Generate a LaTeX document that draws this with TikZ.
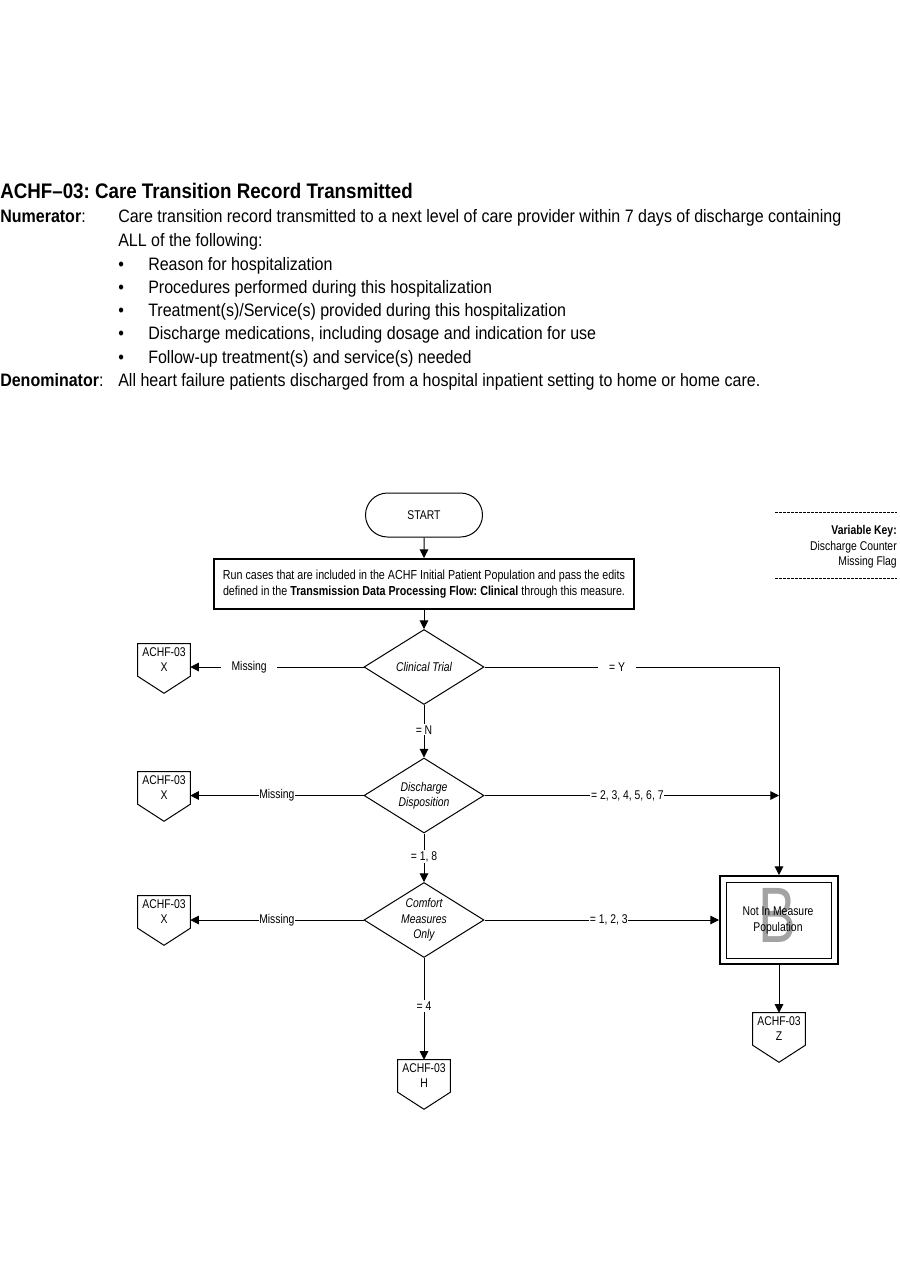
\documentclass[tikz,border=0pt]{standalone}
\usepackage{fontspec}
\setmainfont{Liberation Sans}[FakeStretch=0.82]
\newfontfamily\hdrfont{Liberation Sans}[FakeStretch=0.89]
\usetikzlibrary{shapes.geometric,shapes.misc,arrows.meta,calc}
\frenchspacing

\begin{document}
\begin{tikzpicture}[x=0.75pt,y=-0.75pt,
  every node/.style={font=\fontsize{9.5}{11.5}\selectfont},
  ln/.style={line width=0.75pt},
  arr/.style={line width=0.75pt,-{Triangle[length=6.5pt,width=6.5pt]}},
  dec/.style={diamond,draw,line width=0.75pt,inner sep=0pt,minimum width=90pt,minimum height=56.25pt,aspect=1.6,align=center,font=\fontsize{9.5}{11.5}\selectfont\itshape},
  conn/.style={minimum width=39pt,minimum height=24pt,inner sep=0pt,align=center,font=\fontsize{9.5}{11.25}\selectfont},
  lbl/.style={fill=white,inner sep=1pt},
  hdr/.style={anchor=base west,inner sep=0pt,font=\hdrfont\fontsize{13.5}{15}\selectfont}]
\useasboundingbox (0,0) rectangle (900,1286);

% ---- header text ----
\node[hdr,font=\hdrfont\bfseries\fontsize{15.8}{17}\selectfont] (title) at (0,198) {ACHF–03: Care Transition Record Transmitted};
\node[hdr] (numl) at (0,222) {\textbf{Numerator}:};
\node[hdr] (num1) at (118,222) {Care transition record transmitted to a next level of care provider within 7 days of discharge containing};
\node[hdr] (num2) at (118,246) {ALL of the following:};
\node[hdr] (b1) at (118,270) {•};
\node[hdr] (t1) at (148,270) {Reason for hospitalization};
\node[hdr] (b2) at (118,293) {•};
\node[hdr] (t2) at (148,293) {Procedures performed during this hospitalization};
\node[hdr] (b3) at (118,316) {•};
\node[hdr] (t3) at (148,316) {Treatment(s)/Service(s) provided during this hospitalization};
\node[hdr] (b4) at (118,339) {•};
\node[hdr] (t4) at (148,339) {Discharge medications, including dosage and indication for use};
\node[hdr] (b5) at (118,363) {•};
\node[hdr] (t5) at (148,363) {Follow-up treatment(s) and service(s) needed};
\node[hdr] (denl) at (0,386) {\textbf{Denominator}:};
\node[hdr] (den1) at (118,386) {All heart failure patients discharged from a hospital inpatient setting to home or home care.};

% ---- variable key ----
\draw[line width=0.5pt,dash pattern=on 2pt off 1pt] (775,512) -- (897,512);
\node[anchor=base east,inner sep=0pt,font=\bfseries\fontsize{9.5}{11.5}\selectfont] (vk) at (897,534) {Variable Key:};
\node[anchor=base east,inner sep=0pt] (vk1) at (897,550) {Discharge Counter};
\node[anchor=base east,inner sep=0pt] (vk2) at (897,565) {Missing Flag};
\draw[line width=0.5pt,dash pattern=on 2pt off 1pt] (775,578) -- (897,578);

% ---- flowchart ----
\node[rounded rectangle,draw,line width=0.75pt,minimum width=87.75pt,minimum height=33pt,inner sep=0pt] (start) at (424,515) {START};
\node[draw,line width=1.5pt,minimum width=315pt,minimum height=37.5pt,inner sep=0pt,align=center,font=\fontsize{9.8}{12}\selectfont] (run) at (424,584)
  {Run cases that are included in the ACHF Initial Patient Population and pass the edits\\defined in the \textbf{Transmission Data Processing Flow: Clinical} through this measure.};

\node[dec] (d1) at (424,667) {Clinical Trial};
\node[dec] (d2) at (424,795.5) {Discharge\\Disposition};
\node[dec] (d3) at (424,920) {Comfort\\Measures\\Only};

% B box
\node[draw,line width=1.5pt,minimum width=88.5pt,minimum height=66pt,inner sep=0pt] (bbox) at (779,920) {};
\draw[ln] ($(bbox.north west)+(7,7)$) rectangle ($(bbox.south east)+(-8,-7)$);
\node[text=black!36,inner sep=0pt,font=\fontsize{59}{59}\selectfont] (bigb) at (777,915) {\scalebox{0.88}[1]{B}};
\node[align=center,inner sep=0pt,font=\fontsize{9.5}{12}\selectfont] (btxt) at (778,920) {Not In Measure\\Population};

% off-page connectors
\newcommand\offpage[3]{%
  \node[conn] (#1) at (#2) {ACHF-03\\#3};
  \draw[ln] (#1.north west) -- (#1.north east) -- (#1.south east) -- ($(#1.south)+(0,17)$) -- (#1.south west) -- cycle;}
\offpage{c1}{164,660}{X}
\offpage{c2}{164,788}{X}
\offpage{c3}{164,912}{X}
\offpage{ch}{424,1076}{H}
\offpage{cz}{779,1029}{Z}

% connectors
\draw[arr] (start) -- (run);
\draw[arr] (run) -- (d1);
\draw[arr] (d1.west) -- node[pos=0.66,lbl,inner xsep=8pt]{Missing} (d1.west -| c1.east);
\coordinate (k1) at (d1.east -| bbox.north);
\draw[arr] (d1.east) -- node[pos=0.45,lbl,inner xsep=8pt]{= Y} (k1) -- (bbox.north);
\draw[arr] (d1.south) -- node[pos=0.47,lbl]{= N} (d2.north);
\draw[arr] (d2.west) -- node[pos=0.5,lbl,inner xsep=0.5pt]{Missing} (d2.west -| c2.east);
\draw[arr] (d2.east) -- node[pos=0.485,lbl,inner xsep=0.5pt]{= 2, 3, 4, 5, 6, 7} (d2.east -| bbox.north);
\draw[arr] (d2.south) -- node[pos=0.48,lbl]{= 1, 8} (d3.north);
\draw[arr] (d3.west) -- node[pos=0.5,lbl,inner xsep=0.5pt]{Missing} (d3.west -| c3.east);
\draw[arr] (d3.east) -- node[pos=0.53,lbl,inner xsep=0.5pt]{= 1, 2, 3} (bbox.west);
\draw[arr] (d3.south) -- node[pos=0.47,lbl]{= 4} (ch.north);
\draw[arr] (bbox.south) -- (cz.north);
\end{tikzpicture}
\end{document}
